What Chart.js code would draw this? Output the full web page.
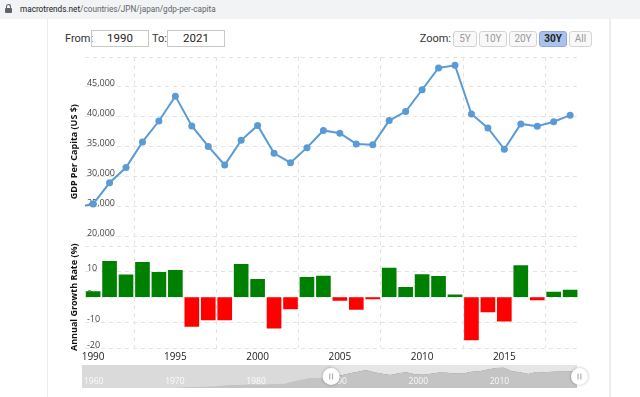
<!DOCTYPE html>
<html>
<head>
<meta charset="utf-8">
<script src="https://cdn.jsdelivr.net/npm/chart.js@4.4.1/dist/chart.umd.min.js"></script>
<style>
  html, body { margin: 0; padding: 0; background: #fff; }
  body { width: 640px; height: 397px; position: relative; overflow: hidden; font-family: Roboto, "Liberation Sans", Arial, sans-serif; }
  #urlbar { position: absolute; left: 0; top: 0; width: 640px; height: 19px; background: #f1f3f4; }
  #urlbar .txt { position: absolute; left: 20px; top: 0; line-height: 18px; font-size: 8.2px; color: #5f6368; white-space: nowrap; }
  #urlbar .txt b { font-weight: normal; color: #202124; }
  .lock-body { position: absolute; left: 5px; top: 8px; width: 7px; height: 5px; background: #5f6368; border-radius: 1px; }
  .lock-arc { position: absolute; left: 6px; top: 4px; width: 3px; height: 5px; border: 1.5px solid #5f6368; border-bottom: none; border-radius: 3px 3px 0 0; }
  .edge { position: absolute; top: 19px; bottom: 0; background: #ececec; }
  .lbl { position: absolute; top: 31px; line-height: 15px; font-size: 11px; color: #333; white-space: nowrap; }
  .box { position: absolute; top: 30px; height: 17px; box-sizing: border-box; border: 1px solid #c8c8c8; font-size: 11.5px; line-height: 15px; text-align: center; color: #222; }
  .btn { position: absolute; top: 31px; height: 16px; box-sizing: border-box; border: 1px solid #d4d4d4; border-radius: 3px; background: #f8f8f8; font-size: 10px; line-height: 14px; text-align: center; color: #9a9a9a; }
  .btn.on { background: #a9c3ec; border-color: #8ea9d8; color: #222; font-weight: bold; }
  #main { position: absolute; left: 0; top: 0; width: 640px; height: 397px; }
  #nav { position: absolute; left: 70px; top: 358px; width: 530px; height: 39px; }
</style>
</head>
<body>
<div id="urlbar"><div class="lock-arc"></div><div class="lock-body"></div><div class="txt"><b>macrotrends.net</b>/countries/JPN/japan/gdp-per-capita</div></div>
<div class="edge" style="left:47px;width:1px;"></div>
<div class="edge" style="left:609px;width:2px;"></div>

<div class="lbl" style="left:65px;">From:</div>
<div class="box" style="left:91px;width:58px;">1990</div>
<div class="lbl" style="left:152px;">To:</div>
<div class="box" style="left:167px;width:58px;">2021</div>

<div class="lbl" style="right:189px;">Zoom:</div>
<div class="btn" style="left:453px;width:24px;">5Y</div>
<div class="btn" style="left:479px;width:28px;">10Y</div>
<div class="btn" style="left:509px;width:28px;">20Y</div>
<div class="btn on" style="left:539px;width:28px;">30Y</div>
<div class="btn" style="left:569px;width:23px;">All</div>

<div id="main"><canvas id="gdpChart"></canvas></div>
<div id="nav"><canvas id="navChart"></canvas></div>

<script>
// --- DATA ---
const years = [1989, 1990, 1991, 1992, 1993, 1994, 1995, 1996, 1997, 1998, 1999,
               2000, 2001, 2002, 2003, 2004, 2005, 2006, 2007, 2008, 2009,
               2010, 2011, 2012, 2013, 2014, 2015, 2016, 2017, 2018, 2019];
const gdpPerCapita = [24810, 25360, 28920, 31470, 35770, 39270, 43440, 38440, 35020, 31900, 36030,
                      38530, 33850, 32290, 34810, 37690, 37220, 35430, 35280, 39340, 40860,
                      44510, 48170, 48600, 40450, 38110, 34520, 38790, 38390, 39160, 40250];
const growthYears = [1990, 1991, 1992, 1993, 1994, 1995, 1996, 1997, 1998, 1999,
                     2000, 2001, 2002, 2003, 2004, 2005, 2006, 2007, 2008, 2009,
                     2010, 2011, 2012, 2013, 2014, 2015, 2016, 2017, 2018, 2019];
const growthRate = [2.2, 14.1, 8.8, 13.7, 9.8, 10.6, -11.5, -8.9, -8.9, 12.9,
                    7.0, -12.2, -4.6, 7.8, 8.3, -1.3, -4.8, -0.7, 11.5, 3.9,
                    8.9, 8.2, 0.9, -16.8, -5.8, -9.4, 12.4, -1.1, 2.0, 2.8];

const yearTicks = [1990, 1995, 2000, 2005, 2010, 2015];
const gdpTicks = [20000, 25000, 30000, 35000, 40000, 45000, 50000];
const gdpTickLabels = ['20,000', '25,000', '30,000', '35,000', '40,000', '45,000', ''];
const growthTicks = [-20, -10, 0, 10, 20];
const growthTickLabels = ['-20', '-10', '0', '10', ''];

// navigator (full history, small area chart)
const navEarlyYears = [1960, 1961, 1962, 1963, 1964, 1965, 1966, 1967, 1968, 1969,
                       1970, 1971, 1972, 1973, 1974, 1975, 1976, 1977, 1978, 1979,
                       1980, 1981, 1982, 1983, 1984, 1985, 1986, 1987, 1988];
const navEarlyValues = [480, 560, 630, 720, 840, 920, 1060, 1230, 1450, 1670,
                        2040, 2270, 2970, 4000, 4350, 4660, 5200, 6340, 8820, 9100,
                        9460, 10360, 9580, 10430, 10980, 11590, 17110, 20750, 25050];
const navLateYears = [2020, 2021];
const navLateValues = [40040, 39310];
const navTicks = [1960, 1970, 1980, 1990, 2000, 2010];
const navSelection = [1990.7, 2021.3];

// --- COLOURS ---
const LINE_BLUE = '#5b9bd5';
const GREEN = '#008000';
const RED = '#ff0000';
const GRID = '#e3e3e3';

// --- MAIN CHART ---
const gdpPoints = years.map((y, k) => ({ x: y, y: gdpPerCapita[k] }));
const growthPoints = growthYears.map((y, k) => ({ x: y, y: growthRate[k] }));
const barColors = growthRate.map(v => v >= 0 ? GREEN : RED);

const tickFont = { family: 'Open Sans, Roboto, sans-serif', size: 9 };
const titleFont = { family: 'Open Sans, Roboto, sans-serif', size: 9, weight: 'bold', lineHeight: 1.1 };

new Chart(document.getElementById('gdpChart'), {
    type: 'bar',
    data: {
        datasets: [{
            type: 'line',
            data: gdpPoints,
            xAxisID: 'x',
            yAxisID: 'y',
            borderColor: LINE_BLUE,
            backgroundColor: LINE_BLUE,
            borderWidth: 2,
            pointRadius: 3.5,
            pointBorderWidth: 0,
            tension: 0
        }, {
            type: 'bar',
            data: growthPoints,
            xAxisID: 'x',
            yAxisID: 'y2',
            backgroundColor: barColors,
            borderWidth: 0,
            barThickness: 14
        }]
    },
    options: {
        responsive: true,
        maintainAspectRatio: false,
        animation: false,
        layout: { padding: { left: 69, right: 60, top: 57, bottom: 31 } },
        plugins: { legend: { display: false }, tooltip: { enabled: false } },
        scales: {
            x: {
                type: 'linear',
                min: 1989.5,
                max: 2019.6,
                offset: false,
                afterBuildTicks: s => { s.ticks = yearTicks.map(v => ({ value: v })); },
                ticks: { padding: 3, autoSkip: false, color: '#222', font: { family: 'Open Sans, Roboto, sans-serif', size: 10 }, maxRotation: 0, callback: v => String(v) },
                grid: { color: GRID, drawTicks: false },
                border: { display: false, dash: [4, 4] }
            },
            y: {
                position: 'left',
                stack: 'main',
                stackWeight: 189.4,
                weight: 2,
                min: 18257,
                max: 50000,
                afterBuildTicks: s => { s.ticks = gdpTicks.map(v => ({ value: v })); },
                ticks: { mirror: true, autoSkip: false, padding: 2, labelOffset: -3, color: '#444', font: tickFont,
                         callback: v => gdpTickLabels[gdpTicks.indexOf(v)] },
                grid: { color: GRID, drawTicks: false },
                border: { display: false, dash: [4, 4] },
                title: { display: true, text: 'GDP Per Capita (US $)', color: '#111', font: titleFont, padding: { top: 0, bottom: 2 } }
            },
            y2: {
                position: 'left',
                stack: 'main',
                stackWeight: 101.6,
                weight: 1,
                min: -20,
                max: 20,
                afterBuildTicks: s => { s.ticks = growthTicks.map(v => ({ value: v })); },
                ticks: { mirror: true, autoSkip: false, padding: 2, labelOffset: -3, color: '#444', font: tickFont,
                         callback: v => growthTickLabels[growthTicks.indexOf(v)] },
                grid: { color: GRID, drawTicks: false },
                border: { display: false, dash: [4, 4] },
                title: { display: true, text: 'Annual Growth Rate (%)', color: '#111', font: titleFont, padding: { top: 0, bottom: 2 } }
            }
        }
    }
});

// --- NAVIGATOR ---
const navAll = navEarlyYears.map((y, k) => ({ x: y, y: navEarlyValues[k] }))
    .concat(gdpPoints)
    .concat(navLateYears.map((y, k) => ({ x: y, y: navLateValues[k] })));
const navSelected = navAll.filter(p => p.x >= 1990);

const navBackground = {
    id: 'navBackground',
    beforeDatasetsDraw(chart) {
        const { ctx, chartArea: a, scales } = chart;
        const x0 = scales.x.getPixelForValue(navSelection[0]);
        const x1 = scales.x.getPixelForValue(navSelection[1]);
        ctx.save();
        ctx.fillStyle = '#dadada';
        ctx.fillRect(a.left, a.top, a.right - a.left, a.bottom - a.top);
        ctx.fillStyle = '#e6e6e6';
        ctx.fillRect(x0, a.top, Math.min(x1, a.right) - x0, a.bottom - a.top);
        ctx.restore();
    }
};

const navOverlay = {
    id: 'navOverlay',
    afterDraw(chart) {
        const { ctx, chartArea: a, scales } = chart;
        ctx.save();
        // decade labels
        ctx.beginPath();
        ctx.rect(a.left, a.top, a.right - a.left, a.bottom - a.top);
        ctx.clip();
        ctx.fillStyle = 'rgba(255,255,255,0.9)';
        ctx.font = '8.5px "Open Sans", Roboto, sans-serif';
        ctx.textBaseline = 'middle';
        navTicks.forEach(t => {
            ctx.fillText(String(t), scales.x.getPixelForValue(t) + 2, a.top + 17);
        });
        ctx.restore();
        // handles
        const cy = (a.top + a.bottom) / 2;
        navSelection.forEach(v => {
            const cx = scales.x.getPixelForValue(v);
            ctx.save();
            ctx.shadowColor = 'rgba(0,0,0,0.3)';
            ctx.shadowBlur = 3;
            ctx.beginPath();
            ctx.arc(cx, cy, 8.5, 0, Math.PI * 2);
            ctx.fillStyle = '#fff';
            ctx.fill();
            ctx.restore();
            ctx.fillStyle = '#b0b0b0';
            ctx.fillRect(cx - 2, cy - 3, 1.2, 6);
            ctx.fillRect(cx + 0.8, cy - 3, 1.2, 6);
        });
    }
};

new Chart(document.getElementById('navChart'), {
    type: 'line',
    data: {
        datasets: [{
            data: navAll,
            fill: 'start',
            backgroundColor: '#c4c4c4',
            borderColor: '#c4c4c4',
            borderWidth: 0,
            pointRadius: 0,
            tension: 0
        }, {
            data: navSelected,
            fill: 'start',
            backgroundColor: '#7f7f7f',
            borderColor: '#7f7f7f',
            borderWidth: 0,
            pointRadius: 0,
            tension: 0
        }]
    },
    options: {
        responsive: true,
        maintainAspectRatio: false,
        animation: false,
        layout: { padding: { left: 12, right: 23, top: 7, bottom: 9 } },
        plugins: { legend: { display: false }, tooltip: { enabled: false } },
        scales: {
            x: { type: 'linear', min: 1960, max: 2021, display: false },
            y: { min: 2000, max: 55000, display: false }
        }
    },
    plugins: [navBackground, navOverlay]
});
</script>
</body>
</html>
